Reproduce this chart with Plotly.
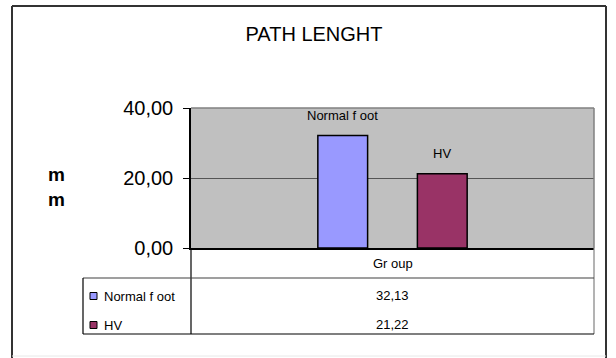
import plotly.graph_objects as go

# Chart data
categories = ["Gr oup"]
series_names = ["Normal f oot", "HV"]
normal_foot = [32.13]
hv = [21.22]
series_values = [normal_foot, hv]
series_colors = ["#9999ff", "#993366"]
y_ticks = [0, 20, 40]

W, H = 616, 358
# plot area in pixels
PL, PR, PT, PB = 191, 594, 108, 248

def px(x):
    return (x - PL) / (PR - PL)

def py(y):
    return (PB - y) / (PB - PT)

FONT = "Liberation Sans, Arial, sans-serif"
BARGAP = 0.506
BARGROUPGAP = 0.5

fig = go.Figure()
for name, vals, col in zip(series_names, series_values, series_colors):
    fig.add_trace(go.Bar(
        x=categories, y=vals, name=name,
        marker=dict(color=col, line=dict(color="black", width=1.5)),
        showlegend=False,
    ))

annotations = []
shapes = []

# series name labels above each bar
slot = (1 - BARGAP) / len(series_names)
for i, (name, vals) in enumerate(zip(series_names, series_values)):
    offset = -(1 - BARGAP) / 2 + slot * (i + 0.5)
    for j, v in enumerate(vals):
        annotations.append(dict(x=j + offset, y=v, xref="x", yref="y", text=name,
                                showarrow=False, yshift=20,
                                xanchor="center", yanchor="middle",
                                font=dict(family=FONT, size=13, color="black")))

def line(x0, y0, x1, y1, color="black", width=1):
    shapes.append(dict(type="line", xref="paper", yref="paper",
                       x0=px(x0), y0=py(y0), x1=px(x1), y1=py(y1),
                       line=dict(color=color, width=width), layer="above"))

def label(x, y, text, size=13, anchor="center", bold=False):
    annotations.append(dict(x=px(x), y=py(y), xref="paper", yref="paper",
                            text=f"<b>{text}</b>" if bold else text,
                            showarrow=False, xanchor=anchor, yanchor="middle",
                            font=dict(family=FONT, size=size, color="black")))

# plot-area frame (top/right gray)
line(PL, PT, PR, PT, "#808080", 1.5)
line(PR, PT, PR, PB, "#808080", 1.5)

# data table under the plot
ROW = 278
TB = 334
TL = 83
line(PL, PB, PL, TB, "black", 1.2)
line(PR, PB, PR, TB, "#808080", 1.2)
line(TL, ROW, PR, ROW, "#404040", 1.2)
line(TL, TB, PR, TB, "black", 1.2)
line(TL, ROW, TL, TB, "black", 1.2)

# outer chart border
BL, BR, BT, BB = 12, 606, 6, 356
line(BL, BT, BR, BT, "#333333", 2)
line(BL, BT, BL, H + 2, "#333333", 2)
line(BR, BT, BR, H + 2, "#333333", 2)
line(BL, BB, BR, BB, "#e8e8e8", 1)

# header row with the category name
label((PL + PR) / 2, 263, categories[0])

# one table row per series: key, name, value
row_centers = [296, 325]
for name, vals, col, yc in zip(series_names, series_values, series_colors, row_centers):
    shapes.append(dict(type="rect", xref="paper", yref="paper",
                       x0=px(90), x1=px(97), y0=py(yc - 3.5), y1=py(yc + 3.5),
                       fillcolor=col, line=dict(color="black", width=1), layer="above"))
    label(102, yc, name, anchor="left")
    label((PL + PR) / 2, yc - 1, f"{vals[0]:.2f}".replace(".", ","))

# y-axis title, stacked letters
annotations.append(dict(x=px(56), y=py(187), xref="paper", yref="paper",
                        text="<b>m</b><br><b>m</b>", showarrow=False,
                        xanchor="center", yanchor="middle",
                        font=dict(family=FONT, size=19, color="black")))

fig.update_layout(
    width=W, height=H,
    margin=dict(l=PL, r=W - PR, t=PT, b=H - PB, pad=0),
    paper_bgcolor="white",
    plot_bgcolor="#c0c0c0",
    barmode="group",
    bargap=BARGAP,
    bargroupgap=BARGROUPGAP,
    separators=",.",
    title=dict(text="PATH LENGHT", x=314 / W, xanchor="center",
               y=1 - 34 / H, yanchor="middle",
               font=dict(family=FONT, size=20, color="black")),
    xaxis=dict(showticklabels=False, ticks="", showgrid=False,
               showline=True, linecolor="black", linewidth=1.5,
               fixedrange=True),
    yaxis=dict(range=[0, 40], tickvals=y_ticks, tickformat=".2f",
               ticks="outside", ticklen=6, tickcolor="black", tickwidth=1,
               showline=True, linecolor="black", linewidth=1.5,
               showgrid=True, gridcolor="#555555", gridwidth=1,
               zeroline=False, ticklabelstandoff=6,
               tickfont=dict(family=FONT, size=20, color="black")),
    shapes=shapes,
    annotations=annotations,
    font=dict(family=FONT),
)

fig.write_html("out.html")
